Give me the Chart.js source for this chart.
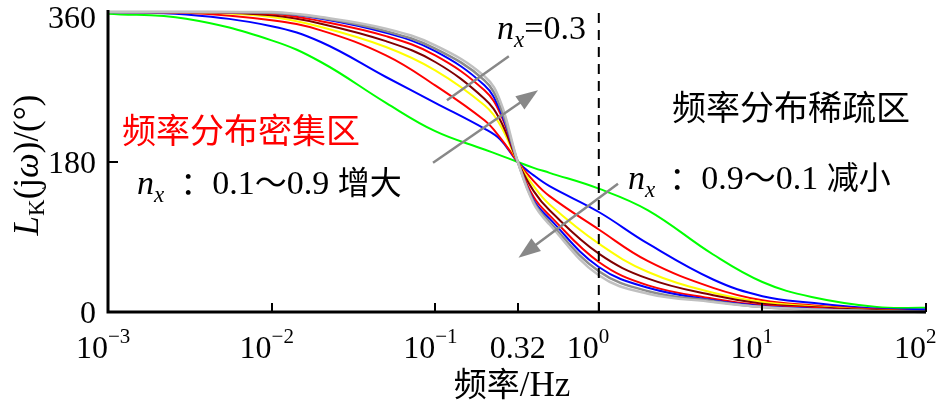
<!DOCTYPE html>
<html>
<head>
<meta charset="utf-8">
<script src="https://cdn.jsdelivr.net/npm/chart.js@4.4.0/dist/chart.umd.min.js"></script>
<style>
  html, body { margin: 0; padding: 0; background: #fff; }
  canvas { display: block; }
</style>
</head>
<body>
<canvas id="myChart" width="947" height="402"></canvas>
<script>
// frequencies (Hz) and L_K phase (deg), one array per n_x curve
const freq = [0.001, 0.003, 0.01, 0.02, 0.05, 0.1, 0.2, 0.25, 0.32, 0.4, 0.5, 1, 2, 5, 10, 20, 50, 100];

const nx01 = [358, 352, 326, 300, 251, 217, 195, 188, 180, 173, 167, 148, 122, 69, 36, 18, 6, 5];
const nx02 = [360, 357, 343, 324, 282, 251, 220, 207, 180, 164, 151, 120, 82, 39, 19, 11, 4, 3];
const nx03 = [360, 359, 350, 338, 308, 272, 230, 209, 180, 157, 139, 99, 61, 29, 14, 8, 3, 1];
const nx04 = [360, 360, 354, 342, 318, 290, 248, 224, 180, 151, 129, 82, 48, 23, 12, 7, 2, 1];
const nx05 = [360, 360, 356, 346, 325, 300, 256, 230, 180, 145, 122, 70, 40, 20, 10, 6, 2, 1];
const nx06 = [360, 360, 358, 349, 331, 308, 266, 238, 180, 138, 116, 60, 32, 16, 8, 5, 1, 1];
const nx07 = [360, 360, 359, 352, 335, 313, 272, 241, 180, 134, 112, 54, 29, 14, 7, 4, 1, 1];
const nx08 = [360, 360, 359, 353, 337, 316, 278, 246, 180, 132, 108, 49, 25, 13, 6, 3, 1, 0];
const nx09 = [360, 360, 360, 354, 340, 320, 283, 253, 180, 130, 105, 44, 22, 12, 6, 3, 1, 0];

const xTicks = [0.001, 0.01, 0.1, 0.32, 1, 10, 100];
const xTickLabels = [['10', '-3'], ['10', '-2'], ['10', '-1'], ['0.32', ''], ['10', '0'], ['10', '1'], ['10', '2']];
const yTicks = [0, 180, 360];
const markerFreq = 1;

const SERIF = '"Liberation Serif", "DejaVu Serif", serif';
const CJK = '"Noto Sans CJK SC", sans-serif';

function pts(vals) {
  return freq.map((f, i) => ({ x: f, y: vals[i] }));
}

function curve(vals, color, w) {
  return {
    data: pts(vals),
    borderColor: color,
    borderWidth: w || 2,
    pointRadius: 0,
    fill: false,
    tension: 0.4,
    clip: 6,
  };
}

// draw a row of text pieces with different fonts
function runs(ctx, x, y, parts, color) {
  ctx.textAlign = 'left';
  ctx.textBaseline = 'alphabetic';
  for (const p of parts) {
    x += p.pre || 0;
    ctx.font = p.f;
    ctx.fillStyle = p.c || color || '#000';
    ctx.fillText(p.t, x, y + (p.dy || 0));
    x += ctx.measureText(p.t).width + (p.sp || 0);
  }
  return x;
}

function arrow(ctx, x1, y1, x2, y2, head) {
  ctx.save();
  ctx.strokeStyle = '#888';
  ctx.fillStyle = '#888';
  ctx.lineWidth = 2.5;
  const a = Math.atan2(y2 - y1, x2 - x1);
  const L = head ? 22 : 0;
  ctx.beginPath();
  ctx.moveTo(x1, y1);
  ctx.lineTo(x2 - L * 0.8 * Math.cos(a), y2 - L * 0.8 * Math.sin(a));
  ctx.stroke();
  if (head) {
    ctx.beginPath();
    ctx.moveTo(x2, y2);
    ctx.lineTo(x2 - L * Math.cos(a) + 8 * Math.sin(a), y2 - L * Math.sin(a) - 8 * Math.cos(a));
    ctx.lineTo(x2 - L * Math.cos(a) - 8 * Math.sin(a), y2 - L * Math.sin(a) + 8 * Math.cos(a));
    ctx.closePath();
    ctx.fill();
  }
  ctx.restore();
}

const decor = {
  id: 'decor',
  afterDatasetsDraw(chart) {
    const ctx = chart.ctx;
    const xs = chart.scales.x, ys = chart.scales.y;
    const a = chart.chartArea;
    ctx.save();

    // axes
    ctx.strokeStyle = '#000';
    ctx.lineWidth = 3;
    ctx.beginPath();
    ctx.moveTo(a.left, a.top - 2);
    ctx.lineTo(a.left, a.bottom);
    ctx.lineTo(a.right, a.bottom);
    ctx.stroke();

    // inward ticks
    ctx.lineWidth = 2;
    xTicks.forEach((v) => {
      const px = Math.round(xs.getPixelForValue(v));
      ctx.beginPath();
      ctx.moveTo(px, a.bottom);
      ctx.lineTo(px, a.bottom - 9);
      ctx.stroke();
    });
    ctx.beginPath();
    ctx.moveTo(a.left, ys.getPixelForValue(180));
    ctx.lineTo(a.left + 10, ys.getPixelForValue(180));
    ctx.stroke();

    // x tick labels
    xTickLabels.forEach((lab, i) => {
      const px = xs.getPixelForValue(xTicks[i]);
      const base = a.bottom + 46;
      ctx.fillStyle = '#000';
      ctx.textBaseline = 'alphabetic';
      if (lab[1] === '') {
        ctx.font = '32px ' + SERIF;
        ctx.textAlign = 'center';
        ctx.fillText(lab[0], px, base);
      } else {
        ctx.font = '32px ' + SERIF;
        ctx.textAlign = 'right';
        ctx.fillText(lab[0], px, base);
        ctx.font = '21px ' + SERIF;
        ctx.textAlign = 'left';
        ctx.fillText(lab[1].replace('-', '\u2212'), px, base - 15);
      }
    });

    // y tick labels
    ctx.font = '32px ' + SERIF;
    ctx.textAlign = 'right';
    yTicks.forEach((v) => {
      const py = ys.getPixelForValue(v);
      ctx.fillText(String(v), 96, v === 360 ? 28 : py + 11);
    });

    // y title
    ctx.save();
    ctx.translate(38, 165);
    ctx.rotate(-Math.PI / 2);
    const yParts = [
      { t: 'L', f: 'italic 35px ' + SERIF },
      { t: 'K', f: '23px ' + SERIF, dy: 6 },
      { t: '(j', f: '35px ' + SERIF },
      { t: '\u03c9', f: 'italic 35px ' + SERIF },
      { t: ')/(\u00b0)', f: '35px ' + SERIF },
    ];
    let w = 0;
    yParts.forEach((p) => { ctx.font = p.f; w += ctx.measureText(p.t).width; });
    runs(ctx, -w / 2, 0, yParts);
    ctx.restore();

    // x title
    const xParts = [
      { t: '\u9891\u7387', f: '33px ' + CJK },
      { t: '/Hz', f: '35px ' + SERIF },
    ];
    let wx = 0;
    xParts.forEach((p) => { ctx.font = p.f; wx += ctx.measureText(p.t).width; });
    runs(ctx, 512 - wx / 2, 396, xParts);

    // arrows
    const P = (f, d) => [xs.getPixelForValue(f), ys.getPixelForValue(d)];
    let s = P(0.097, 179), e = P(0.425, 266);
    arrow(ctx, s[0], s[1], e[0], e[1], true);
    s = P(1.31, 154); e = P(0.323, 65);
    arrow(ctx, s[0], s[1], e[0], e[1], true);
    s = P(0.282, 307); e = P(0.118, 254);
    arrow(ctx, s[0], s[1], e[0], e[1], false);

    // annotations
    runs(ctx, 122, 143, [{ t: '\u9891\u7387\u5206\u5e03\u5bc6\u96c6\u533a', f: '34px ' + CJK }], '#ff0000');
    runs(ctx, 672, 120, [{ t: '\u9891\u7387\u5206\u5e03\u7a00\u758f\u533a', f: '34px ' + CJK }], '#000');

    const nx = [
      { t: 'n', f: 'italic 34px ' + SERIF },
      { t: 'x', f: 'italic 23px ' + SERIF, dy: 8 },
    ];
    runs(ctx, 137, 194, nx.concat([
      { t: '\uff1a', f: '32px ' + CJK, pre: 16 },
      { t: '0.1', f: '34px ' + SERIF },
      { t: '\uff5e', f: '32px ' + CJK },
      { t: '0.9 ', f: '34px ' + SERIF },
      { t: '\u589e\u5927', f: '32px ' + CJK },
    ]));
    runs(ctx, 628, 189, nx.concat([
      { t: '\uff1a', f: '32px ' + CJK, pre: 14 },
      { t: '0.9', f: '34px ' + SERIF },
      { t: '\uff5e', f: '32px ' + CJK },
      { t: '0.1 ', f: '34px ' + SERIF },
      { t: '\u51cf\u5c0f', f: '32px ' + CJK },
    ]));
    runs(ctx, 497, 39, nx.concat([
      { t: '=0.3', f: '34px ' + SERIF },
    ]));

    ctx.restore();
  },
};

const ctx = document.getElementById('myChart').getContext('2d');
const myChart = new Chart(ctx, {
  type: 'line',
  data: {
    datasets: [
      {
        data: [{ x: markerFreq, y: 0 }, { x: markerFreq, y: 360 }],
        borderColor: '#000',
        borderWidth: 2,
        borderDash: [10, 7],
        pointRadius: 0,
        clip: 6,
      },
      curve(nx09, '#c0c0c0', 2.5),
      curve(nx08, '#8c8c8c', 2.5),
      curve(nx07, '#0000ff'),
      curve(nx06, '#ff0000'),
      curve(nx05, '#800000'),
      curve(nx04, '#ffff00'),
      curve(nx03, '#ff0000'),
      curve(nx02, '#0000ff'),
      curve(nx01, '#00ff00'),
    ],
  },
  options: {
    responsive: false,
    animation: false,
    devicePixelRatio: 1,
    layout: { padding: { left: 108, right: 21, top: 12, bottom: 90 } },
    plugins: { legend: { display: false }, tooltip: { enabled: false } },
    scales: {
      x: { type: 'logarithmic', min: 0.001, max: 100, display: false },
      y: { type: 'linear', min: 0, max: 360, display: false },
    },
  },
  plugins: [decor],
});
</script>
</body>
</html>
